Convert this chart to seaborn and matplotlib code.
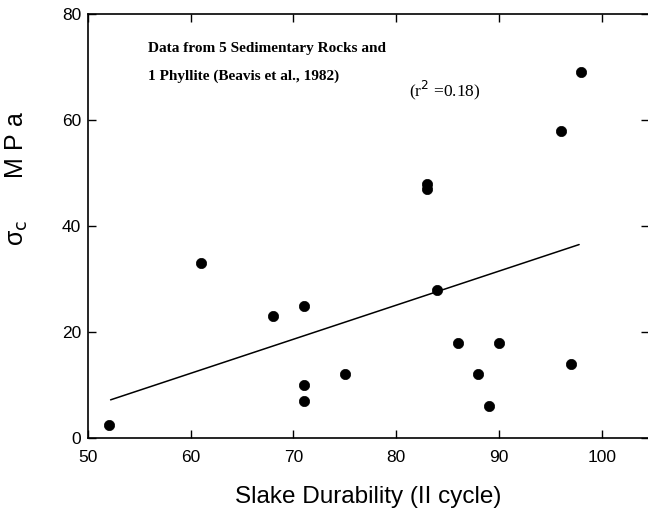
import matplotlib
matplotlib.use("Agg")
import matplotlib.pyplot as plt
import seaborn as sns
import pandas as pd

# data
slake = [52, 61, 68, 71, 71, 71, 75, 83, 83, 84, 86, 88, 89, 90, 96, 97, 98]
sigma_c = [2.5, 33, 23, 25, 10, 7, 12, 48, 47, 28, 18, 12, 6, 18, 58, 14, 69]
fit_x = [52.2, 97.8]
fit_y = [7.2, 36.5]
x_ticks = [50, 60, 70, 80, 90, 100]
y_ticks = [0, 20, 40, 60, 80]

sns.set_style("ticks")
plt.rcParams["font.family"] = ["Liberation Sans", "DejaVu Sans"]
plt.rcParams["text.color"] = "black"
plt.rcParams["axes.labelcolor"] = "black"
plt.rcParams["xtick.color"] = "black"
plt.rcParams["ytick.color"] = "black"
plt.rcParams["axes.edgecolor"] = "black"

df = pd.DataFrame({"x": slake, "y": sigma_c})
fit = pd.DataFrame({"x": fit_x, "y": fit_y})

fig = plt.figure(figsize=(6.48, 5.12), dpi=100)
ax = fig.add_axes([88 / 648, 1 - 438 / 512, (649 - 88) / 648, (438 - 14) / 512])

sns.scatterplot(data=df, x="x", y="y", ax=ax, color="black", s=55,
                edgecolor="black", linewidth=0.5, zorder=3)
sns.lineplot(data=fit, x="x", y="y", ax=ax, color="black", linewidth=1.1)

ax.set_xlim(50, 104.6)
ax.set_ylim(0, 80)
ax.set_xticks(x_ticks)
ax.set_yticks(y_ticks)
ax.tick_params(direction="in", length=6, width=1.0, labelsize=12.5,
               top=True, right=True, labeltop=False, labelright=False,
               colors="black")
ax.tick_params(axis="x", pad=8.5)
ax.tick_params(axis="y", pad=5)
for sp in ax.spines.values():
    sp.set_linewidth(1.2)
ax.set_xlabel("Slake Durability (II cycle)", fontsize=17.5, labelpad=15)
ax.set_ylabel("")

fig.text(17 / 648, 1 - 179 / 512, "σ$_\\mathrm{c}$      M P a", rotation=90,
         ha="center", va="center", fontsize=18)

ax.text(0.107, 0.918, "Data from 5 Sedimentary Rocks and", transform=ax.transAxes,
        family="Liberation Serif", fontweight="bold", fontsize=11, va="center")
ax.text(0.107, 0.854, "1 Phyllite (Beavis et al., 1982)", transform=ax.transAxes,
        family="Liberation Serif", fontweight="bold", fontsize=11, va="center")
ax.text(0.572, 0.821, "(r$^2$ =0.18)", transform=ax.transAxes,
        family="Liberation Serif", fontsize=12.5, va="center")

fig.savefig("out.png", dpi=100)
